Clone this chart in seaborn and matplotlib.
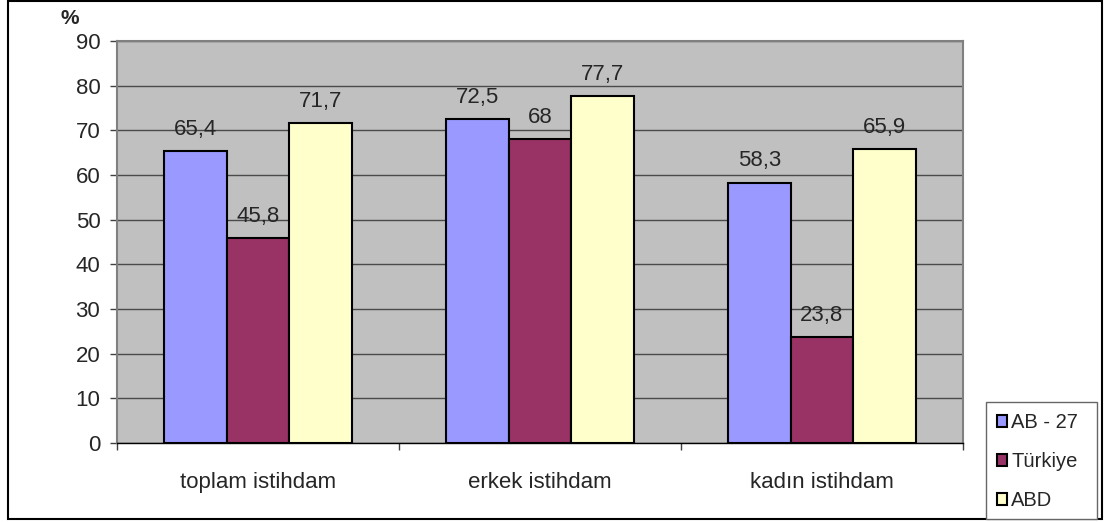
import matplotlib
matplotlib.use("Agg")
import matplotlib.pyplot as plt
import matplotlib.patches as mpatches
import pandas as pd
import seaborn as sns

# Employment rates (%) by group
categories = ["toplam istihdam", "erkek istihdam", "kadın istihdam"]
series_names = ["AB - 27", "Türkiye", "ABD"]
ab27 = [65.4, 72.5, 58.3]
turkiye = [45.8, 68, 23.8]
abd = [71.7, 77.7, 65.9]
y_ticks = [0, 10, 20, 30, 40, 50, 60, 70, 80, 90]

colors = ["#9999FF", "#993366", "#FFFFCC"]

rows = []
for name, vals in zip(series_names, [ab27, turkiye, abd]):
    for cat, v in zip(categories, vals):
        rows.append({"kategori": cat, "seri": name, "deger": v})
df = pd.DataFrame(rows)

sns.set_style("white")
plt.rcParams["font.family"] = ["Liberation Sans", "DejaVu Sans"]

W, H = 1105, 522
fig = plt.figure(figsize=(W / 100, H / 100), dpi=100)
fig.patch.set_facecolor("white")

# plot area in pixel coordinates
left, right, top, bottom = 117, 963, 41, 443
ax = fig.add_axes([left / W, 1 - bottom / H, (right - left) / W, (bottom - top) / H])
ax.set_facecolor("#C0C0C0")

sns.barplot(
    data=df, x="kategori", y="deger", hue="seri", order=categories,
    hue_order=series_names, palette=colors, width=3 / 4.5, gap=0,
    edgecolor="black", linewidth=1.5, saturation=1, ax=ax, legend=True,
)

def fmt(v):
    return f"{v:g}".replace(".", ",")

for cont in ax.containers:
    ax.bar_label(cont, labels=[fmt(b.get_height()) for b in cont],
                 padding=8, fontsize=16)

ax.set_ylim(0, 90)
ax.set_xlim(-0.5, 2.5)
ax.set_yticks(y_ticks)
ax.set_yticklabels([str(t) for t in y_ticks], fontsize=16)
ax.yaxis.grid(True, color="#4a4a4a", linewidth=1)
ax.set_axisbelow(True)
ax.tick_params(axis="y", length=5, width=1, color="#404040", pad=7, left=True)

ax.set_xticks(range(len(categories)))
ax.set_xticklabels(categories, fontsize=16)
ax.tick_params(axis="x", which="major", length=0, pad=21)
ax.set_xticks([-0.5, 0.5, 1.5, 2.5], minor=True)
ax.tick_params(axis="x", which="minor", length=5, width=1, color="#404040",
               bottom=True)
ax.set_xlabel("")
ax.set_ylabel("")

for s in ["top", "right", "left"]:
    ax.spines[s].set_color("#808080")
    ax.spines[s].set_linewidth(1.5)
ax.spines["bottom"].set_color("black")
ax.spines["bottom"].set_linewidth(1)

handles, labels = ax.get_legend_handles_labels()
ax.get_legend().remove()

# outer chart border
fig.patches.append(mpatches.Rectangle(
    (8 / W, 1 - 519 / H), (1102 - 8) / W, (519 - 1) / H,
    transform=fig.transFigure, fill=False, edgecolor="black", linewidth=1.5))

# legend box
fig.patches.append(mpatches.Rectangle(
    (986 / W, 1 - 519 / H), (1097 - 986) / W, (519 - 402) / H,
    transform=fig.transFigure, fill=True, facecolor="white",
    edgecolor="#666666", linewidth=1, zorder=2))

leg = fig.legend(handles, labels, loc="upper left",
                 bbox_to_anchor=(993 / W, 1 - 409 / H), frameon=False,
                 fontsize=14.5, handlelength=0.5, handleheight=0.5,
                 handletextpad=0.2, labelspacing=1.0, borderaxespad=0,
                 borderpad=0.2)
leg.set_zorder(3)

fig.text(70 / W, 1 - 19 / H, "%", ha="center", va="center",
         fontsize=15, fontweight="bold")

fig.savefig("out.png", dpi=100)
